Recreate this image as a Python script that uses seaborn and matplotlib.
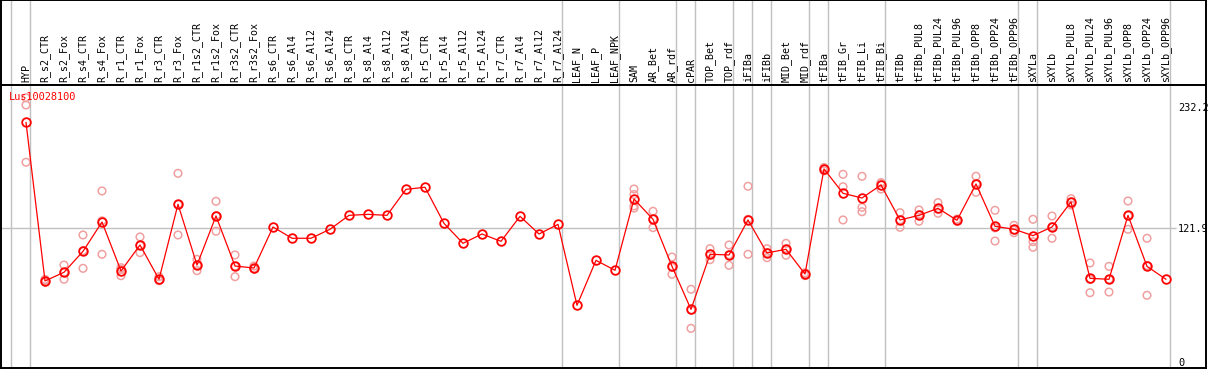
import matplotlib
matplotlib.use("Agg")
import matplotlib.pyplot as plt
import seaborn as sns
import pandas as pd
import numpy as np

gene = "Lus10028100"

categories = ["HYP",
    "R_s2_CTR", "R_s2_Fox", "R_s4_CTR", "R_s4_Fox", "R_r1_CTR", "R_r1_Fox",
    "R_r3_CTR", "R_r3_Fox", "R_r1s2_CTR", "R_r1s2_Fox", "R_r3s2_CTR", "R_r3s2_Fox",
    "R_s6_CTR", "R_s6_Al4", "R_s6_Al12", "R_s6_Al24", "R_s8_CTR", "R_s8_Al4",
    "R_s8_Al12", "R_s8_Al24", "R_r5_CTR", "R_r5_Al4", "R_r5_Al12", "R_r5_Al24",
    "R_r7_CTR", "R_r7_Al4", "R_r7_Al12", "R_r7_Al24",
    "LEAF_N", "LEAF_P", "LEAF_NPK",
    "SAM", "AR_Bet", "AR_rdf", "cPAR", "TOP_Bet", "TOP_rdf", "iFIBa", "iFIBb",
    "MID_Bet", "MID_rdf", "tFIBa", "tFIB_Gr", "tFIB_Li", "tFIB_Bi",
    "tFIBb", "tFIBb_PUL8", "tFIBb_PUL24", "tFIBb_PUL96", "tFIBb_OPP8",
    "tFIBb_OPP24", "tFIBb_OPP96",
    "sXYLa", "sXYLb", "sXYLb_PUL8", "sXYLb_PUL24", "sXYLb_PUL96", "sXYLb_OPP8",
    "sXYLb_OPP24", "sXYLb_OPP96"]

groups = (["HYP"] + ["R"] * 28 + ["LEAF"] * 3 + ["AR"] * 3 + ["cPAR"] + ["TOP"] * 2
          + ["iFIBa"] + ["iFIBb"] + ["MID"] * 2 + ["tFIBa"] + ["tFIB"] * 3
          + ["tFIBb"] * 7 + ["sXYLa"] + ["sXYLb"] * 7)

means = [218.2,
    73.6, 81.5, 100.6, 127.3, 82.7, 106.4, 75.1, 143.5, 88.1, 132.8, 87.2, 85.4,
    122.8, 112.5, 112.5, 120.7, 133.4, 134.3, 133.4, 157.1, 159.0, 126.1, 107.9,
    116.4, 109.7, 132.5, 116.4, 125.2,
    51.4, 92.4, 83.3,
    148.3, 129.8, 86.9, 47.7, 97.9, 97.3, 129.2, 99.1, 102.5, 79.9,
    175.7, 153.5, 149.2, 161.1,
    129.2, 133.4, 139.8, 128.9, 162.0, 123.4, 120.7,
    114.9, 122.8, 145.6, 76.0, 75.1, 133.4, 86.9, 75.1]

replicates = [[240.5, 234.0, 181.8],
    [72.5, 74.0, 75.0], [88.1, 75.1, 81.3], [115.5, 85.1, 101.2], [155.6, 97.9, 128.4],
    [85.7, 78.4, 84.0], [113.7, 99.4, 106.0], [77.5, 73.8, 74.0], [171.7, 115.5, 143.3],
    [93.3, 83.0, 88.0], [146.2, 118.9, 133.0], [97.3, 77.5, 87.0], [87.2, 84.4, 85.0],
    [], [], [], [], [], [], [], [], [], [], [], [], [], [], [], [],
    [], [], [],
    [157.4, 152.4, 142.0, 140.0], [137.1, 122.2, 130.0], [95.4, 79.7, 86.0],
    [66.0, 30.4, 47.0], [103.0, 93.0, 98.0], [106.4, 87.9, 97.5],
    [159.9, 97.9, 129.8], [103.0, 94.8, 99.5], [107.9, 97.0, 102.6], [78.5, 81.0, 80.0],
    [174.0, 177.0, 176.0], [170.8, 159.5, 129.2], [169.0, 140.7, 136.7], [163.2, 157.4, 162.7],
    [135.8, 122.5, 129.3], [138.3, 128.0, 134.0], [145.0, 135.3, 139.0], [128.0, 130.0, 129.0],
    [169.0, 154.4, 162.6], [138.0, 110.0, 122.0], [124.3, 117.6, 120.0],
    [129.8, 109.4, 104.3], [132.8, 112.5, 123.0], [148.6, 142.8, 145.4], [90.0, 62.9, 75.0],
    [86.9, 63.5, 75.0], [146.5, 120.7, 133.0], [112.5, 60.5, 87.7], []]

ytick_values = [0, 121.9, 232.2]
ytick_labels = ["0", "121.9", "232.2"]
grid_value = 121.9

# ---- data frames ----
n = len(categories)
df_mean = pd.DataFrame({"pos": np.arange(n), "value": means, "cat": categories})
rep_pos, rep_val = [], []
for i, reps in enumerate(replicates):
    for v in reps:
        rep_pos.append(i)
        rep_val.append(v)
df_rep = pd.DataFrame({"pos": rep_pos, "value": rep_val})

group_ends = [-1] + [i for i in range(n) if i == n - 1 or groups[i] != groups[i + 1]]

# ---- figure ----
sns.set_style("white")
plt.rcParams["font.family"] = ["DejaVu Sans Mono", "DejaVu Sans"]

W, H = 1209, 370
fig = plt.figure(figsize=(W / 100, H / 100), dpi=100)
left_px, right_px, top_px, head_px, bottom_px = 1, 1206, 0, 85, 368
ax_head = fig.add_axes([left_px / W, (H - head_px) / H, (right_px - left_px) / W, (head_px - top_px) / H])
ax = fig.add_axes([left_px / W, (H - bottom_px) / H, (right_px - left_px) / W, (bottom_px - head_px) / H])

x0 = (left_px - 26) / 19
x1 = (right_px - 26) / 19
for a in (ax, ax_head):
    a.set_xlim(x0, x1)
    a.set_xticks([])
    a.set_yticks([])
    for s in a.spines.values():
        s.set_color("black")
        s.set_linewidth(1.4)
    for e in group_ends:
        a.axvline(e + 0.19, color="#c0c0c0", lw=1.0, zorder=0)
ax_head.set_ylim(0, 1)
ax.set_ylim(-5.74, 252.2)

# header labels
for i, c in enumerate(categories):
    ax_head.text(i, 0.03, c, rotation=90, ha="center", va="bottom", fontsize=7.2, color="black")

# horizontal gridline
ax.hlines(grid_value, x0, (1176 - 26) / 19, color="#c0c0c0", lw=1.0, zorder=0)

# replicates
sns.scatterplot(data=df_rep, x="pos", y="value", ax=ax, marker="o", s=30,
                facecolor="none", edgecolor="#f0a0a0", linewidth=1.1, zorder=2, legend=False)
# means
sns.lineplot(data=df_mean, x="pos", y="value", ax=ax, color="red", lw=0.9,
             marker="o", markersize=6.2, markerfacecolor="none", markeredgecolor="red",
             markeredgewidth=1.3, zorder=3, legend=False)

ax.set_xlabel("")
ax.set_ylabel("")
ax.set_xlim(x0, x1)
ax.set_ylim(-5.74, 252.2)

# right-side tick labels inside
ax.yaxis.tick_right()
ax.set_yticks(ytick_values)
ax.set_yticklabels(ytick_labels)
ax.tick_params(axis="y", direction="in", length=0, pad=-20.2, labelsize=7.4, labelcolor="black")
for lab in ax.get_yticklabels():
    lab.set_ha("left")

ax.text((9 - left_px) / (right_px - left_px), 1 - 12 / (bottom_px - head_px), gene,
        transform=ax.transAxes, color="red", fontsize=7.4, ha="left", va="center", zorder=5)

fig.savefig("out.png", dpi=100)
